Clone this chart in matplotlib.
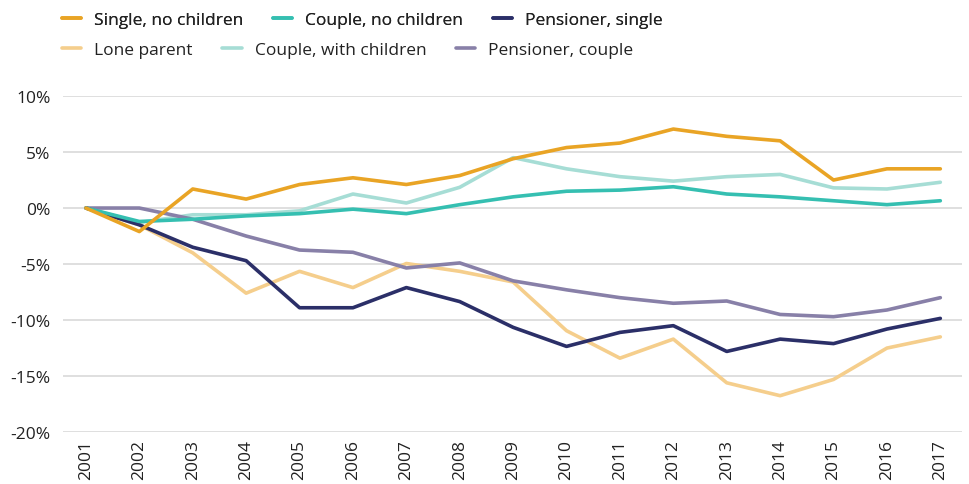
import matplotlib
matplotlib.use("Agg")
import matplotlib.pyplot as plt
from matplotlib.ticker import FuncFormatter

plt.rcParams['font.family'] = ['Open Sans', 'DejaVu Sans']

years = list(range(2001, 2018))
series_names = ["Single, no children", "Couple, no children", "Pensioner, single",
                "Lone parent", "Couple, with children", "Pensioner, couple"]

single_no_children = [0, -2.1, 1.7, 0.8, 2.1, 2.7, 2.1, 2.9, 4.4, 5.4, 5.8, 7.05, 6.4, 6.0, 2.5, 3.5, 3.5]
couple_no_children = [0, -1.2, -1.0, -0.7, -0.5, -0.1, -0.5, 0.3, 1.0, 1.5, 1.6, 1.9, 1.25, 1.0, 0.65, 0.3, 0.65]
pensioner_single = [0, -1.5, -3.5, -4.7, -8.9, -8.9, -7.1, -8.35, -10.65, -12.35, -11.1, -10.5, -12.8, -11.7, -12.1, -10.8, -9.85]
lone_parent = [0, -1.5, -4.0, -7.6, -5.65, -7.1, -4.95, -5.65, -6.6, -10.95, -13.4, -11.7, -15.6, -16.75, -15.3, -12.5, -11.5]
couple_with_children = [0, -1.3, -0.6, -0.6, -0.25, 1.25, 0.45, 1.85, 4.5, 3.5, 2.8, 2.4, 2.8, 3.0, 1.8, 1.7, 2.3]
pensioner_couple = [0, 0, -1.0, -2.5, -3.75, -3.95, -5.35, -4.9, -6.5, -7.3, -8.0, -8.5, -8.3, -9.5, -9.7, -9.1, -8.0]

values = [single_no_children, couple_no_children, pensioner_single,
          lone_parent, couple_with_children, pensioner_couple]
colors = ["#E9A425", "#35BFB1", "#2B2F68", "#F5CE8C", "#A6DDD5", "#8880A8"]
# drawing order: light ones behind
draw_order = [4, 3, 5, 2, 1, 0]

fig = plt.figure(figsize=(9.69, 4.85), dpi=100)
ax = fig.add_axes([0.065, 0.107, 0.928, 0.693])

lines = {}
for i in draw_order:
    ln, = ax.plot(years, values[i], color=colors[i], lw=2.6, label=series_names[i],
                  solid_capstyle='round', solid_joinstyle='round', zorder=3)
    lines[i] = ln

ax.set_ylim(-20, 10)
ax.set_xlim(2000.57, 2017.41)
ax.set_yticks([10, 5, 0, -5, -10, -15, -20])
ax.yaxis.set_major_formatter(FuncFormatter(lambda v, p: f"{int(v)}%"))
ax.set_xticks(years)
ax.set_xticklabels([str(y) for y in years], rotation=90, va='top')
ax.grid(axis='y', color='#D9D9D9', lw=1.2, zorder=0)
ax.grid(axis='x', visible=False)
for s in ax.spines.values():
    s.set_visible(False)
ax.tick_params(axis='both', length=0, labelsize=12.5, colors='#222222')
ax.tick_params(axis='y', pad=9)
ax.tick_params(axis='x', pad=5)

legend_kw = dict(ncol=3, loc='center left', frameon=False, fontsize=12.5,
                 handlelength=1.1, handletextpad=0.75, columnspacing=1.72,
                 borderpad=0, borderaxespad=0)
leg1 = fig.legend([lines[i] for i in [0, 1, 2]], [series_names[i] for i in [0, 1, 2]],
                  bbox_to_anchor=(62 / 969, 1 - 21 / 485), **legend_kw)
fig.add_artist(leg1)
leg2 = fig.legend([lines[i] for i in [3, 4, 5]], [series_names[i] for i in [3, 4, 5]],
                  bbox_to_anchor=(62 / 969, 1 - 51 / 485), **legend_kw)
for leg in (leg1, leg2):
    for t in leg.get_texts():
        t.set_color('#222222')

fig.savefig("out.png", dpi=100)
